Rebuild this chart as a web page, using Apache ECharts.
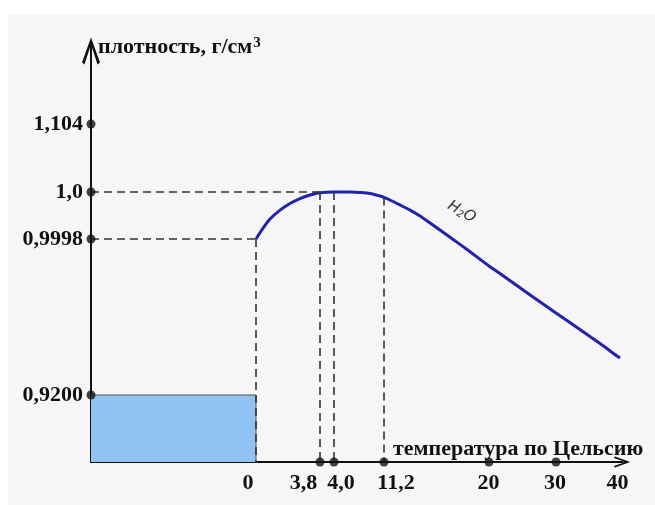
<!DOCTYPE html>
<html>
<head>
<meta charset="utf-8">
<script src="https://cdn.jsdelivr.net/npm/echarts@6/dist/echarts.min.js"></script>
<style>html,body{margin:0;padding:0;background:#fff;}#c{width:655px;height:505px;}</style>
</head>
<body>
<div id="c"></div>
<script>
// ---- data ----
const xTickVals = [0, 3.8, 4.0, 11.2, 20, 30, 40];
const xTickLabels = ['0', '3,8', '4,0', '11,2', '20', '30', '40'];
const yTickVals = [0.92, 0.9998, 1.0, 1.104];
const yTickLabels = ['0,9200', '0,9998', '1,0', '1,104'];
const xDotTemps = [3.8, 4.0, 11.2, 20, 30];
const temps =   [0, 0.36, 0.83, 1.43, 2.02, 2.61, 3.21, 3.8, 4.0, 4.86, 6.3, 7.74, 9.18, 10.62, 11.2, 11.7, 12.54, 13.38, 14.22, 15.06, 15.89, 16.94, 18.07, 20, 21.64, 26.57, 30, 31.8, 37.21, 40, 40.49];
const density = [0.9998, 0.99984, 0.999885, 0.999923, 0.999951, 0.999972, 0.999987, 0.999997, 1.0, 1.0, 1.0, 0.999998, 0.999994, 0.999983, 0.999977, 0.999966, 0.999945, 0.999923, 0.999898, 0.999868, 0.999838, 0.9998, 0.99484, 0.98599, 0.98215, 0.97013, 0.96195, 0.95811, 0.94634, 0.93995, 0.93893];
const iceDensity = 0.92;
const iceTempEnd = 0;
const hGuideDensity = [1.0, 0.9998];
const hGuideTemp = [3.8, 0];
const vGuideTemps = [0, 3.8, 4.0, 11.2];
const vGuideDensity = [0.9998, 1.0, 1.0, 0.999977];
const curveName = 'H2O';

// ---- schematic (non-linear) axis layout ----
const X_POS = [165, 229, 243, 293, 398, 465, 526];
const X_LABEL_POS = [157, 212.5, 250, 305, 397.6, 464, 526.5];
const Y_POS = [67, 223, 270, 338];
const X_MAX = 531, Y_MAX = 411;

function interp(v, vals, pos) {
  let i = 0;
  while (i < vals.length - 2 && v > vals[i + 1]) i++;
  const t = (v - vals[i]) / (vals[i + 1] - vals[i]);
  return pos[i] + t * (pos[i + 1] - pos[i]);
}
const mapX = t => interp(t, xTickVals, X_POS);
const mapY = d => interp(d, yTickVals, Y_POS);
function nearestLabel(v, pos, labels) {
  let best = 0;
  for (let i = 1; i < pos.length; i++) if (Math.abs(pos[i] - v) < Math.abs(pos[best] - v)) best = i;
  return labels[best];
}

const curveData = temps.map((t, i) => [mapX(t), mapY(density[i])]);
const iceData = [[0, mapY(iceDensity)], [mapX(iceTempEnd), mapY(iceDensity)], [mapX(iceTempEnd), 0]];
const guideLines = [];
hGuideDensity.forEach((d, i) => guideLines.push([{coord: [0, mapY(d)]}, {coord: [mapX(hGuideTemp[i]), mapY(d)]}]));
vGuideTemps.forEach((t, i) => guideLines.push([{coord: [mapX(t), mapY(vGuideDensity[i])]}, {coord: [mapX(t), 0]}]));
const dotData = xDotTemps.map(t => [mapX(t), 0]).concat(yTickVals.map(d => [0, mapY(d)]));

const ARROW = 'path://M9,0 L18,25 L15.5,27 L10,10 L10,27 L8,27 L8,10 L2.5,27 L0,25 Z';
const serif = '"Liberation Serif", "Times New Roman", serif';

const chart = echarts.init(document.getElementById('c'), null, {renderer: 'canvas'});
chart.setOption({
  animation: false,
  backgroundColor: '#ffffff',
  graphic: [{type: 'rect', left: 8, top: 15, z: -100, silent: true, shape: {width: 647, height: 490}, style: {fill: '#f6f6f6'}}],
  grid: {left: 91, right: 33, top: 51, bottom: 43, containLabel: false, outerBoundsMode: 'none'},
  xAxis: {
    type: 'value', min: 0, max: X_MAX,
    name: 'температура по Цельсию', nameLocation: 'end', nameGap: -229,
    nameTextStyle: {fontFamily: serif, fontWeight: 'bold', fontSize: 22, color: '#111', align: 'left', verticalAlign: 'bottom', padding: [0, 0, 2, 0]},
    axisLine: {show: true, symbol: ['none', ARROW], symbolSize: [11, 24], lineStyle: {color: '#111', width: 2}},
    axisTick: {show: false},
    splitLine: {show: false},
    axisLabel: {customValues: X_LABEL_POS, margin: 10, fontFamily: serif, fontWeight: 'bold', fontSize: 22, color: '#111',
      formatter: v => nearestLabel(v, X_LABEL_POS, xTickLabels)}
  },
  yAxis: {
    type: 'value', min: 0, max: Y_MAX,
    name: '{a|плотность, г/см}{s|3}', nameLocation: 'end', nameGap: 4,
    nameTextStyle: {fontFamily: serif, fontWeight: 'bold', fontSize: 22, color: '#111', align: 'left', verticalAlign: 'middle', padding: [0, 0, 0, 7],
      rich: {a: {fontFamily: serif, fontWeight: 'bold', fontSize: 22, color: '#111'}, s: {fontFamily: serif, fontWeight: 'bold', fontSize: 15, color: '#111', verticalAlign: 'top', padding: [0, 0, 7, 1]}}},
    axisLine: {show: true, symbol: ['none', ARROW], symbolSize: [18, 27], lineStyle: {color: '#111', width: 2}},
    axisTick: {show: false},
    splitLine: {show: false},
    axisLabel: {customValues: Y_POS, margin: 8, fontFamily: serif, fontWeight: 'bold', fontSize: 22, color: '#111',
      formatter: v => nearestLabel(v, Y_POS, yTickLabels)}
  },
  series: [
    {
      type: 'line', data: iceData, symbol: 'none', z: 1, clip: false,
      lineStyle: {color: '#555', width: 1},
      areaStyle: {color: '#90c2f2', opacity: 1}
    },
    {
      type: 'line', data: [], symbol: 'none', z: 2,
      markLine: {silent: true, symbol: ['none', 'none'], label: {show: false},
        lineStyle: {type: [8, 5], color: '#333', width: 1.6}, data: guideLines}
    },
    {
      type: 'line', name: curveName, data: curveData, symbol: 'none', smooth: 0.3, z: 3,
      lineStyle: {color: '#2222ac', width: 3},
      markPoint: {symbol: 'circle', symbolSize: 0, silent: true,
        data: [{coord: [mapX(17.7), mapY(0.999915)], value: curveName,
          label: {show: true, position: 'inside', rotate: -30, formatter: '{h|H}{s|2}{h|O}',
            rich: {h: {fontFamily: '"DejaVu Sans", sans-serif', fontStyle: 'italic', fontSize: 15, color: '#333'},
                   s: {fontFamily: '"DejaVu Sans", sans-serif', fontStyle: 'italic', fontSize: 10, color: '#333', verticalAlign: 'bottom', padding: [6, 0, 0, 0]}}}}]}
    },
    {
      type: 'scatter', data: dotData, symbol: 'circle', symbolSize: 9, clip: false, z: 5,
      itemStyle: {color: '#111'}
    }
  ]
});
</script>
</body>
</html>
